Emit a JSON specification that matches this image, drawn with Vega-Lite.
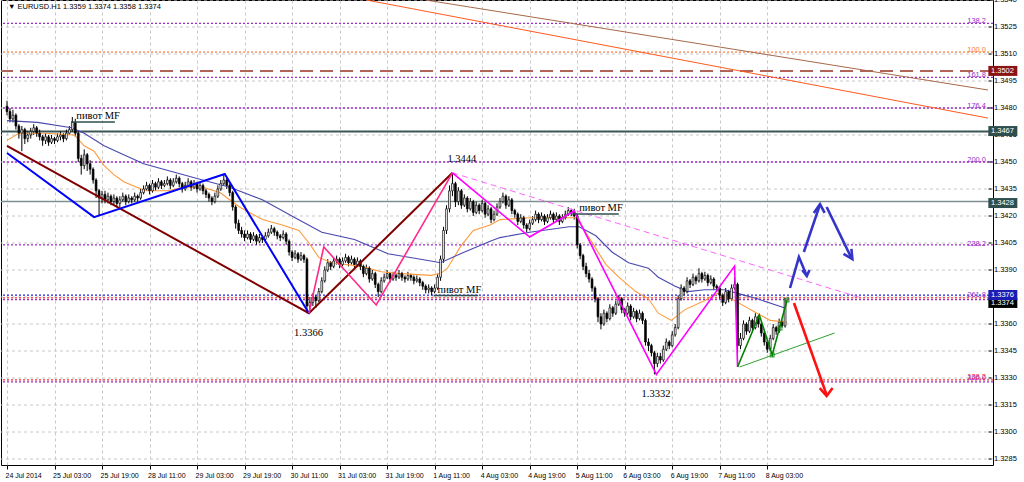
{
"$schema":"https://vega.github.io/schema/vega-lite/v6.json",
"width":992,"height":465,
"autosize":{"type":"none"},
"padding":{"left":1,"top":0,"right":31,"bottom":17},
"background":"#ffffff",
"config":{"view":{"stroke":"#000000","strokeWidth":1},
 "axis":{"title":null,"domain":false,"tickColor":"#000000","labelFont":"Liberation Sans","labelFontSize":7.5,"labelColor":"#000000","gridColor":"#c8c8c8","gridDash":[3,3],"labelOverlap":false,"labelBound":false,"labelFlush":false},
 "axisX":{"grid":true,"tickSize":4,"labelAlign":"left","labelPadding":2},
 "axisY":{"grid":false,"labels":false,"ticks":false}},
"datasets":{
"yticks":[{"p":1.3285},{"p":1.3300},{"p":1.3315},{"p":1.3330},{"p":1.3345},{"p":1.3360},{"p":1.3375},{"p":1.3390},{"p":1.3405},{"p":1.3420},{"p":1.3435},{"p":1.3450},{"p":1.3465},{"p":1.3480},{"p":1.3495},{"p":1.3510},{"p":1.3525},{"p":1.3540}],
"candles":[
{"i":0,"o":1.3481,"h":1.3484,"l":1.3476,"c":1.3478},
{"i":1,"o":1.3478,"h":1.3480,"l":1.3472,"c":1.3474},
{"i":2,"o":1.3474,"h":1.3479,"l":1.3472,"c":1.3476},
{"i":3,"o":1.3476,"h":1.3477,"l":1.3468,"c":1.3470},
{"i":4,"o":1.3470,"h":1.3471,"l":1.3463,"c":1.3466},
{"i":5,"o":1.3466,"h":1.3470,"l":1.3456,"c":1.3468},
{"i":6,"o":1.3468,"h":1.3469,"l":1.3460,"c":1.3463},
{"i":7,"o":1.3463,"h":1.3467,"l":1.3461,"c":1.3465},
{"i":8,"o":1.3465,"h":1.3469,"l":1.3463,"c":1.3467},
{"i":9,"o":1.3467,"h":1.3471,"l":1.3465,"c":1.3469},
{"i":10,"o":1.3469,"h":1.3470,"l":1.3464,"c":1.3466},
{"i":11,"o":1.3466,"h":1.3468,"l":1.3462,"c":1.3464},
{"i":12,"o":1.3464,"h":1.3465,"l":1.3459,"c":1.3462},
{"i":13,"o":1.3462,"h":1.3466,"l":1.3460,"c":1.3464},
{"i":14,"o":1.3464,"h":1.3465,"l":1.3459,"c":1.3461},
{"i":15,"o":1.3461,"h":1.3465,"l":1.3460,"c":1.3463},
{"i":16,"o":1.3463,"h":1.3464,"l":1.3460,"c":1.3462},
{"i":17,"o":1.3462,"h":1.3466,"l":1.3461,"c":1.3464},
{"i":18,"o":1.3464,"h":1.3467,"l":1.3462,"c":1.3465},
{"i":19,"o":1.3465,"h":1.3466,"l":1.3461,"c":1.3463},
{"i":20,"o":1.3463,"h":1.3468,"l":1.3462,"c":1.3466},
{"i":21,"o":1.3466,"h":1.3470,"l":1.3465,"c":1.3468},
{"i":22,"o":1.3468,"h":1.3475,"l":1.3467,"c":1.3472},
{"i":23,"o":1.3472,"h":1.3474,"l":1.3464,"c":1.3466},
{"i":24,"o":1.3466,"h":1.3467,"l":1.3450,"c":1.3452},
{"i":25,"o":1.3452,"h":1.3454,"l":1.3443,"c":1.3448},
{"i":26,"o":1.3448,"h":1.3457,"l":1.3446,"c":1.3454},
{"i":27,"o":1.3454,"h":1.3455,"l":1.3445,"c":1.3449},
{"i":28,"o":1.3449,"h":1.3451,"l":1.3443,"c":1.3446},
{"i":29,"o":1.3446,"h":1.3447,"l":1.3438,"c":1.3440},
{"i":30,"o":1.3440,"h":1.3441,"l":1.3430,"c":1.3434},
{"i":31,"o":1.3434,"h":1.3435,"l":1.3420,"c":1.3430},
{"i":32,"o":1.3430,"h":1.3434,"l":1.3427,"c":1.3432},
{"i":33,"o":1.3432,"h":1.3434,"l":1.3427,"c":1.3429},
{"i":34,"o":1.3429,"h":1.3433,"l":1.3427,"c":1.3431},
{"i":35,"o":1.3431,"h":1.3432,"l":1.3426,"c":1.3428},
{"i":36,"o":1.3428,"h":1.3432,"l":1.3426,"c":1.3430},
{"i":37,"o":1.3430,"h":1.3431,"l":1.3425,"c":1.3427},
{"i":38,"o":1.3427,"h":1.3431,"l":1.3425,"c":1.3429},
{"i":39,"o":1.3429,"h":1.3433,"l":1.3428,"c":1.3431},
{"i":40,"o":1.3431,"h":1.3432,"l":1.3426,"c":1.3428},
{"i":41,"o":1.3428,"h":1.3432,"l":1.3427,"c":1.3430},
{"i":42,"o":1.3430,"h":1.3431,"l":1.3427,"c":1.3429},
{"i":43,"o":1.3429,"h":1.3433,"l":1.3428,"c":1.3431},
{"i":44,"o":1.3431,"h":1.3432,"l":1.3428,"c":1.3430},
{"i":45,"o":1.3430,"h":1.3435,"l":1.3429,"c":1.3433},
{"i":46,"o":1.3433,"h":1.3437,"l":1.3432,"c":1.3435},
{"i":47,"o":1.3435,"h":1.3439,"l":1.3434,"c":1.3437},
{"i":48,"o":1.3437,"h":1.3438,"l":1.3432,"c":1.3434},
{"i":49,"o":1.3434,"h":1.3440,"l":1.3433,"c":1.3438},
{"i":50,"o":1.3438,"h":1.3439,"l":1.3434,"c":1.3436},
{"i":51,"o":1.3436,"h":1.3441,"l":1.3435,"c":1.3439},
{"i":52,"o":1.3439,"h":1.3440,"l":1.3435,"c":1.3437},
{"i":53,"o":1.3437,"h":1.3440,"l":1.3436,"c":1.3438},
{"i":54,"o":1.3438,"h":1.3442,"l":1.3437,"c":1.3440},
{"i":55,"o":1.3440,"h":1.3441,"l":1.3435,"c":1.3437},
{"i":56,"o":1.3437,"h":1.3441,"l":1.3436,"c":1.3439},
{"i":57,"o":1.3439,"h":1.3443,"l":1.3438,"c":1.3441},
{"i":58,"o":1.3441,"h":1.3442,"l":1.3436,"c":1.3438},
{"i":59,"o":1.3438,"h":1.3439,"l":1.3433,"c":1.3435},
{"i":60,"o":1.3435,"h":1.3439,"l":1.3434,"c":1.3437},
{"i":61,"o":1.3437,"h":1.3441,"l":1.3436,"c":1.3439},
{"i":62,"o":1.3439,"h":1.3440,"l":1.3434,"c":1.3436},
{"i":63,"o":1.3436,"h":1.3440,"l":1.3435,"c":1.3438},
{"i":64,"o":1.3438,"h":1.3439,"l":1.3433,"c":1.3435},
{"i":65,"o":1.3435,"h":1.3439,"l":1.3434,"c":1.3437},
{"i":66,"o":1.3437,"h":1.3438,"l":1.3432,"c":1.3434},
{"i":67,"o":1.3434,"h":1.3435,"l":1.3430,"c":1.3432},
{"i":68,"o":1.3432,"h":1.3433,"l":1.3428,"c":1.3430},
{"i":69,"o":1.3430,"h":1.3431,"l":1.3426,"c":1.3428},
{"i":70,"o":1.3428,"h":1.3433,"l":1.3427,"c":1.3431},
{"i":71,"o":1.3431,"h":1.3437,"l":1.3430,"c":1.3435},
{"i":72,"o":1.3435,"h":1.3440,"l":1.3434,"c":1.3438},
{"i":73,"o":1.3438,"h":1.3443,"l":1.3437,"c":1.3440},
{"i":74,"o":1.3440,"h":1.3441,"l":1.3435,"c":1.3437},
{"i":75,"o":1.3437,"h":1.3438,"l":1.3431,"c":1.3433},
{"i":76,"o":1.3433,"h":1.3434,"l":1.3423,"c":1.3425},
{"i":77,"o":1.3425,"h":1.3426,"l":1.3413,"c":1.3416},
{"i":78,"o":1.3416,"h":1.3418,"l":1.3410,"c":1.3412},
{"i":79,"o":1.3412,"h":1.3414,"l":1.3408,"c":1.3410},
{"i":80,"o":1.3410,"h":1.3412,"l":1.3406,"c":1.3408},
{"i":81,"o":1.3408,"h":1.3412,"l":1.3407,"c":1.3410},
{"i":82,"o":1.3410,"h":1.3411,"l":1.3405,"c":1.3407},
{"i":83,"o":1.3407,"h":1.3411,"l":1.3406,"c":1.3409},
{"i":84,"o":1.3409,"h":1.3410,"l":1.3404,"c":1.3406},
{"i":85,"o":1.3406,"h":1.3410,"l":1.3405,"c":1.3408},
{"i":86,"o":1.3408,"h":1.3409,"l":1.3405,"c":1.3407},
{"i":87,"o":1.3407,"h":1.3411,"l":1.3406,"c":1.3409},
{"i":88,"o":1.3409,"h":1.3413,"l":1.3408,"c":1.3411},
{"i":89,"o":1.3411,"h":1.3415,"l":1.3410,"c":1.3413},
{"i":90,"o":1.3413,"h":1.3414,"l":1.3409,"c":1.3411},
{"i":91,"o":1.3411,"h":1.3412,"l":1.3407,"c":1.3409},
{"i":92,"o":1.3409,"h":1.3410,"l":1.3406,"c":1.3408},
{"i":93,"o":1.3408,"h":1.3412,"l":1.3407,"c":1.3410},
{"i":94,"o":1.3410,"h":1.3411,"l":1.3404,"c":1.3406},
{"i":95,"o":1.3406,"h":1.3407,"l":1.3398,"c":1.3400},
{"i":96,"o":1.3400,"h":1.3401,"l":1.3395,"c":1.3397},
{"i":97,"o":1.3397,"h":1.3401,"l":1.3396,"c":1.3399},
{"i":98,"o":1.3399,"h":1.3400,"l":1.3394,"c":1.3396},
{"i":99,"o":1.3396,"h":1.3400,"l":1.3395,"c":1.3398},
{"i":100,"o":1.3398,"h":1.3399,"l":1.3394,"c":1.3396},
{"i":101,"o":1.3396,"h":1.3397,"l":1.3366,"c":1.3370},
{"i":102,"o":1.3370,"h":1.3375,"l":1.3368,"c":1.3372},
{"i":103,"o":1.3372,"h":1.3377,"l":1.3370,"c":1.3375},
{"i":104,"o":1.3375,"h":1.3376,"l":1.3369,"c":1.3373},
{"i":105,"o":1.3373,"h":1.3380,"l":1.3372,"c":1.3378},
{"i":106,"o":1.3378,"h":1.3386,"l":1.3377,"c":1.3384},
{"i":107,"o":1.3384,"h":1.3392,"l":1.3383,"c":1.3390},
{"i":108,"o":1.3390,"h":1.3396,"l":1.3389,"c":1.3394},
{"i":109,"o":1.3394,"h":1.3395,"l":1.3390,"c":1.3392},
{"i":110,"o":1.3392,"h":1.3397,"l":1.3391,"c":1.3395},
{"i":111,"o":1.3395,"h":1.3398,"l":1.3393,"c":1.3396},
{"i":112,"o":1.3396,"h":1.3397,"l":1.3391,"c":1.3393},
{"i":113,"o":1.3393,"h":1.3397,"l":1.3392,"c":1.3395},
{"i":114,"o":1.3395,"h":1.3399,"l":1.3394,"c":1.3397},
{"i":115,"o":1.3397,"h":1.3398,"l":1.3392,"c":1.3394},
{"i":116,"o":1.3394,"h":1.3398,"l":1.3393,"c":1.3396},
{"i":117,"o":1.3396,"h":1.3397,"l":1.3391,"c":1.3393},
{"i":118,"o":1.3393,"h":1.3397,"l":1.3392,"c":1.3395},
{"i":119,"o":1.3395,"h":1.3396,"l":1.3390,"c":1.3392},
{"i":120,"o":1.3392,"h":1.3393,"l":1.3386,"c":1.3388},
{"i":121,"o":1.3388,"h":1.3393,"l":1.3387,"c":1.3391},
{"i":122,"o":1.3391,"h":1.3392,"l":1.3383,"c":1.3385},
{"i":123,"o":1.3385,"h":1.3390,"l":1.3384,"c":1.3388},
{"i":124,"o":1.3388,"h":1.3389,"l":1.3380,"c":1.3382},
{"i":125,"o":1.3382,"h":1.3383,"l":1.3375,"c":1.3378},
{"i":126,"o":1.3378,"h":1.3386,"l":1.3377,"c":1.3384},
{"i":127,"o":1.3384,"h":1.3388,"l":1.3383,"c":1.3386},
{"i":128,"o":1.3386,"h":1.3390,"l":1.3385,"c":1.3388},
{"i":129,"o":1.3388,"h":1.3389,"l":1.3383,"c":1.3385},
{"i":130,"o":1.3385,"h":1.3389,"l":1.3384,"c":1.3387},
{"i":131,"o":1.3387,"h":1.3388,"l":1.3384,"c":1.3386},
{"i":132,"o":1.3386,"h":1.3390,"l":1.3385,"c":1.3388},
{"i":133,"o":1.3388,"h":1.3389,"l":1.3384,"c":1.3386},
{"i":134,"o":1.3386,"h":1.3387,"l":1.3383,"c":1.3385},
{"i":135,"o":1.3385,"h":1.3389,"l":1.3384,"c":1.3387},
{"i":136,"o":1.3387,"h":1.3388,"l":1.3384,"c":1.3386},
{"i":137,"o":1.3386,"h":1.3387,"l":1.3382,"c":1.3384},
{"i":138,"o":1.3384,"h":1.3387,"l":1.3383,"c":1.3385},
{"i":139,"o":1.3385,"h":1.3386,"l":1.3381,"c":1.3383},
{"i":140,"o":1.3383,"h":1.3384,"l":1.3379,"c":1.3381},
{"i":141,"o":1.3381,"h":1.3382,"l":1.3377,"c":1.3379},
{"i":142,"o":1.3379,"h":1.3382,"l":1.3377,"c":1.3380},
{"i":143,"o":1.3380,"h":1.3381,"l":1.3376,"c":1.3378},
{"i":144,"o":1.3378,"h":1.3382,"l":1.3377,"c":1.3380},
{"i":145,"o":1.3380,"h":1.3388,"l":1.3379,"c":1.3386},
{"i":146,"o":1.3386,"h":1.3398,"l":1.3384,"c":1.3396},
{"i":147,"o":1.3396,"h":1.3414,"l":1.3394,"c":1.3412},
{"i":148,"o":1.3412,"h":1.3426,"l":1.3410,"c":1.3424},
{"i":149,"o":1.3424,"h":1.3437,"l":1.3422,"c":1.3434},
{"i":150,"o":1.3434,"h":1.3444,"l":1.3431,"c":1.3438},
{"i":151,"o":1.3438,"h":1.3439,"l":1.3425,"c":1.3428},
{"i":152,"o":1.3428,"h":1.3436,"l":1.3426,"c":1.3434},
{"i":153,"o":1.3434,"h":1.3435,"l":1.3424,"c":1.3426},
{"i":154,"o":1.3426,"h":1.3432,"l":1.3425,"c":1.3430},
{"i":155,"o":1.3430,"h":1.3431,"l":1.3422,"c":1.3424},
{"i":156,"o":1.3424,"h":1.3430,"l":1.3423,"c":1.3428},
{"i":157,"o":1.3428,"h":1.3429,"l":1.3420,"c":1.3422},
{"i":158,"o":1.3422,"h":1.3428,"l":1.3421,"c":1.3426},
{"i":159,"o":1.3426,"h":1.3427,"l":1.3421,"c":1.3423},
{"i":160,"o":1.3423,"h":1.3429,"l":1.3422,"c":1.3427},
{"i":161,"o":1.3427,"h":1.3428,"l":1.3419,"c":1.3421},
{"i":162,"o":1.3421,"h":1.3426,"l":1.3420,"c":1.3424},
{"i":163,"o":1.3424,"h":1.3425,"l":1.3416,"c":1.3418},
{"i":164,"o":1.3418,"h":1.3423,"l":1.3417,"c":1.3421},
{"i":165,"o":1.3421,"h":1.3427,"l":1.3420,"c":1.3425},
{"i":166,"o":1.3425,"h":1.3430,"l":1.3424,"c":1.3428},
{"i":167,"o":1.3428,"h":1.3433,"l":1.3427,"c":1.3431},
{"i":168,"o":1.3431,"h":1.3432,"l":1.3424,"c":1.3426},
{"i":169,"o":1.3426,"h":1.3431,"l":1.3425,"c":1.3429},
{"i":170,"o":1.3429,"h":1.3430,"l":1.3421,"c":1.3423},
{"i":171,"o":1.3423,"h":1.3424,"l":1.3419,"c":1.3421},
{"i":172,"o":1.3421,"h":1.3422,"l":1.3415,"c":1.3417},
{"i":173,"o":1.3417,"h":1.3421,"l":1.3416,"c":1.3419},
{"i":174,"o":1.3419,"h":1.3420,"l":1.3413,"c":1.3415},
{"i":175,"o":1.3415,"h":1.3416,"l":1.3411,"c":1.3413},
{"i":176,"o":1.3413,"h":1.3418,"l":1.3412,"c":1.3416},
{"i":177,"o":1.3416,"h":1.3420,"l":1.3415,"c":1.3418},
{"i":178,"o":1.3418,"h":1.3423,"l":1.3417,"c":1.3421},
{"i":179,"o":1.3421,"h":1.3422,"l":1.3416,"c":1.3418},
{"i":180,"o":1.3418,"h":1.3422,"l":1.3417,"c":1.3420},
{"i":181,"o":1.3420,"h":1.3421,"l":1.3415,"c":1.3417},
{"i":182,"o":1.3417,"h":1.3421,"l":1.3416,"c":1.3419},
{"i":183,"o":1.3419,"h":1.3423,"l":1.3418,"c":1.3421},
{"i":184,"o":1.3421,"h":1.3422,"l":1.3416,"c":1.3418},
{"i":185,"o":1.3418,"h":1.3422,"l":1.3417,"c":1.3420},
{"i":186,"o":1.3420,"h":1.3421,"l":1.3415,"c":1.3417},
{"i":187,"o":1.3417,"h":1.3421,"l":1.3416,"c":1.3419},
{"i":188,"o":1.3419,"h":1.3423,"l":1.3418,"c":1.3421},
{"i":189,"o":1.3421,"h":1.3425,"l":1.3420,"c":1.3423},
{"i":190,"o":1.3423,"h":1.3424,"l":1.3420,"c":1.3422},
{"i":191,"o":1.3422,"h":1.3424,"l":1.3418,"c":1.3420},
{"i":192,"o":1.3420,"h":1.3421,"l":1.3402,"c":1.3404},
{"i":193,"o":1.3404,"h":1.3405,"l":1.3396,"c":1.3398},
{"i":194,"o":1.3398,"h":1.3399,"l":1.3390,"c":1.3392},
{"i":195,"o":1.3392,"h":1.3394,"l":1.3386,"c":1.3388},
{"i":196,"o":1.3388,"h":1.3390,"l":1.3383,"c":1.3385},
{"i":197,"o":1.3385,"h":1.3386,"l":1.3378,"c":1.3380},
{"i":198,"o":1.3380,"h":1.3381,"l":1.3372,"c":1.3374},
{"i":199,"o":1.3374,"h":1.3375,"l":1.3361,"c":1.3364},
{"i":200,"o":1.3364,"h":1.3366,"l":1.3357,"c":1.3360},
{"i":201,"o":1.3360,"h":1.3368,"l":1.3359,"c":1.3366},
{"i":202,"o":1.3366,"h":1.3367,"l":1.3361,"c":1.3363},
{"i":203,"o":1.3363,"h":1.3371,"l":1.3362,"c":1.3369},
{"i":204,"o":1.3369,"h":1.3370,"l":1.3364,"c":1.3366},
{"i":205,"o":1.3366,"h":1.3373,"l":1.3365,"c":1.3371},
{"i":206,"o":1.3371,"h":1.3376,"l":1.3370,"c":1.3374},
{"i":207,"o":1.3374,"h":1.3375,"l":1.3366,"c":1.3368},
{"i":208,"o":1.3368,"h":1.3369,"l":1.3364,"c":1.3366},
{"i":209,"o":1.3366,"h":1.3372,"l":1.3365,"c":1.3370},
{"i":210,"o":1.3370,"h":1.3371,"l":1.3362,"c":1.3364},
{"i":211,"o":1.3364,"h":1.3369,"l":1.3363,"c":1.3367},
{"i":212,"o":1.3367,"h":1.3368,"l":1.3361,"c":1.3363},
{"i":213,"o":1.3363,"h":1.3368,"l":1.3362,"c":1.3366},
{"i":214,"o":1.3366,"h":1.3367,"l":1.3360,"c":1.3362},
{"i":215,"o":1.3362,"h":1.3363,"l":1.3348,"c":1.3350},
{"i":216,"o":1.3350,"h":1.3352,"l":1.3345,"c":1.3348},
{"i":217,"o":1.3348,"h":1.3349,"l":1.3342,"c":1.3344},
{"i":218,"o":1.3344,"h":1.3345,"l":1.3332,"c":1.3338},
{"i":219,"o":1.3338,"h":1.3344,"l":1.3336,"c":1.3342},
{"i":220,"o":1.3342,"h":1.3344,"l":1.3338,"c":1.3340},
{"i":221,"o":1.3340,"h":1.3348,"l":1.3339,"c":1.3346},
{"i":222,"o":1.3346,"h":1.3352,"l":1.3345,"c":1.3350},
{"i":223,"o":1.3350,"h":1.3351,"l":1.3346,"c":1.3348},
{"i":224,"o":1.3348,"h":1.3356,"l":1.3347,"c":1.3354},
{"i":225,"o":1.3354,"h":1.3360,"l":1.3353,"c":1.3358},
{"i":226,"o":1.3358,"h":1.3376,"l":1.3357,"c":1.3374},
{"i":227,"o":1.3374,"h":1.3382,"l":1.3373,"c":1.3380},
{"i":228,"o":1.3380,"h":1.3381,"l":1.3376,"c":1.3378},
{"i":229,"o":1.3378,"h":1.3386,"l":1.3377,"c":1.3384},
{"i":230,"o":1.3384,"h":1.3385,"l":1.3380,"c":1.3382},
{"i":231,"o":1.3382,"h":1.3388,"l":1.3381,"c":1.3386},
{"i":232,"o":1.3386,"h":1.3387,"l":1.3382,"c":1.3384},
{"i":233,"o":1.3384,"h":1.3391,"l":1.3383,"c":1.3388},
{"i":234,"o":1.3388,"h":1.3389,"l":1.3383,"c":1.3385},
{"i":235,"o":1.3385,"h":1.3389,"l":1.3384,"c":1.3387},
{"i":236,"o":1.3387,"h":1.3388,"l":1.3381,"c":1.3383},
{"i":237,"o":1.3383,"h":1.3387,"l":1.3382,"c":1.3385},
{"i":238,"o":1.3385,"h":1.3386,"l":1.3379,"c":1.3381},
{"i":239,"o":1.3381,"h":1.3382,"l":1.3378,"c":1.3380},
{"i":240,"o":1.3380,"h":1.3381,"l":1.3374,"c":1.3376},
{"i":241,"o":1.3376,"h":1.3377,"l":1.3370,"c":1.3372},
{"i":242,"o":1.3372,"h":1.3380,"l":1.3371,"c":1.3378},
{"i":243,"o":1.3378,"h":1.3379,"l":1.3372,"c":1.3374},
{"i":244,"o":1.3374,"h":1.3382,"l":1.3373,"c":1.3380},
{"i":245,"o":1.3380,"h":1.3386,"l":1.3379,"c":1.3382},
{"i":246,"o":1.3382,"h":1.3383,"l":1.3338,"c":1.3348},
{"i":247,"o":1.3348,"h":1.3355,"l":1.3346,"c":1.3352},
{"i":248,"o":1.3352,"h":1.3362,"l":1.3351,"c":1.3360},
{"i":249,"o":1.3360,"h":1.3361,"l":1.3354,"c":1.3356},
{"i":250,"o":1.3356,"h":1.3364,"l":1.3355,"c":1.3362},
{"i":251,"o":1.3362,"h":1.3363,"l":1.3356,"c":1.3358},
{"i":252,"o":1.3358,"h":1.3366,"l":1.3357,"c":1.3364},
{"i":253,"o":1.3364,"h":1.3365,"l":1.3358,"c":1.3360},
{"i":254,"o":1.3360,"h":1.3361,"l":1.3353,"c":1.3355},
{"i":255,"o":1.3355,"h":1.3356,"l":1.3348,"c":1.3350},
{"i":256,"o":1.3350,"h":1.3351,"l":1.3344,"c":1.3346},
{"i":257,"o":1.3346,"h":1.3354,"l":1.3345,"c":1.3352},
{"i":258,"o":1.3352,"h":1.3360,"l":1.3351,"c":1.3358},
{"i":259,"o":1.3358,"h":1.3359,"l":1.3354,"c":1.3356},
{"i":260,"o":1.3356,"h":1.3363,"l":1.3355,"c":1.3361},
{"i":261,"o":1.3361,"h":1.3362,"l":1.3358,"c":1.3359},
{"i":262,"o":1.3359,"h":1.3374,"l":1.3358,"c":1.3374}
],
"ma":[
{"s":"fast","x":0,"p":1.3462},{"s":"fast","x":4,"p":1.3466},{"s":"fast","x":12.7,"p":1.3466},{"s":"fast","x":22.7,"p":1.3465},{"s":"fast","x":26,"p":1.3459},{"s":"fast","x":29.3,"p":1.3456},{"s":"fast","x":32.7,"p":1.3448},{"s":"fast","x":36,"p":1.3443},{"s":"fast","x":39.3,"p":1.3439},{"s":"fast","x":43.7,"p":1.3436},{"s":"fast","x":47,"p":1.3434},{"s":"fast","x":54.3,"p":1.3434},{"s":"fast","x":59.3,"p":1.3436},{"s":"fast","x":66,"p":1.3436},{"s":"fast","x":71.7,"p":1.3433},{"s":"fast","x":78.3,"p":1.3425},{"s":"fast","x":86,"p":1.3418},{"s":"fast","x":92.7,"p":1.3415},{"s":"fast","x":98.3,"p":1.3412},{"s":"fast","x":101.7,"p":1.3405},{"s":"fast","x":105,"p":1.3397},{"s":"fast","x":109.3,"p":1.3394},{"s":"fast","x":119.3,"p":1.3392},{"s":"fast","x":126,"p":1.3389},{"s":"fast","x":132.7,"p":1.3388},{"s":"fast","x":142.7,"p":1.3387},{"s":"fast","x":146,"p":1.3388},{"s":"fast","x":148.3,"p":1.3391},{"s":"fast","x":152.7,"p":1.3403},{"s":"fast","x":157,"p":1.3412},{"s":"fast","x":162.7,"p":1.3415},{"s":"fast","x":166,"p":1.3418},{"s":"fast","x":176,"p":1.3419},{"s":"fast","x":189.3,"p":1.3419},{"s":"fast","x":191.7,"p":1.3419},{"s":"fast","x":196,"p":1.3408},{"s":"fast","x":201.7,"p":1.3393},{"s":"fast","x":206,"p":1.3386},{"s":"fast","x":211.7,"p":1.3378},{"s":"fast","x":216,"p":1.3374},{"s":"fast","x":219.3,"p":1.3366},{"s":"fast","x":223.7,"p":1.3362},{"s":"fast","x":228.3,"p":1.3368},{"s":"fast","x":235,"p":1.3373},{"s":"fast","x":239.3,"p":1.3377},{"s":"fast","x":245,"p":1.3373},{"s":"fast","x":250.3,"p":1.3368},{"s":"fast","x":257,"p":1.3362},{"s":"fast","x":262.7,"p":1.3361},
{"s":"slow","x":0,"p":1.3473},{"s":"slow","x":10.3,"p":1.3472},{"s":"slow","x":21.7,"p":1.3469},{"s":"slow","x":26,"p":1.3466},{"s":"slow","x":32.7,"p":1.3459},{"s":"slow","x":39.3,"p":1.3454},{"s":"slow","x":46,"p":1.3449},{"s":"slow","x":52.7,"p":1.3446},{"s":"slow","x":63.7,"p":1.3441},{"s":"slow","x":75,"p":1.3436},{"s":"slow","x":86,"p":1.3429},{"s":"slow","x":97,"p":1.3419},{"s":"slow","x":106,"p":1.3411},{"s":"slow","x":117,"p":1.3407},{"s":"slow","x":128.3,"p":1.3399},{"s":"slow","x":139.3,"p":1.3396},{"s":"slow","x":146,"p":1.3394},{"s":"slow","x":152.7,"p":1.3399},{"s":"slow","x":162.7,"p":1.3406},{"s":"slow","x":166,"p":1.3408},{"s":"slow","x":176,"p":1.3411},{"s":"slow","x":189.3,"p":1.3414},{"s":"slow","x":192.7,"p":1.3414},{"s":"slow","x":198.3,"p":1.3409},{"s":"slow","x":203.7,"p":1.3400},{"s":"slow","x":209.3,"p":1.3394},{"s":"slow","x":216,"p":1.3391},{"s":"slow","x":219.3,"p":1.3386},{"s":"slow","x":225,"p":1.3381},{"s":"slow","x":229.3,"p":1.3378},{"s":"slow","x":235,"p":1.3379},{"s":"slow","x":241.7,"p":1.3379},{"s":"slow","x":246,"p":1.3377},{"s":"slow","x":252.7,"p":1.3374},{"s":"slow","x":261.7,"p":1.3369}
],
"levels":[
{"p":1.3527,"k":"fib"},{"p":1.3511,"k":"fibo"},{"p":1.3497,"k":"fib"},{"p":1.3480,"k":"fib"},{"p":1.3450,"k":"fib"},{"p":1.3404,"k":"fib"},{"p":1.3376,"k":"bluedot"},{"p":1.33745,"k":"reddot"},{"p":1.33735,"k":"fib"},{"p":1.3329,"k":"reddot"},{"p":1.33278,"k":"fib"},
{"p":1.35006,"k":"res"},{"p":1.3467,"k":"slate"},{"p":1.3428,"k":"gray"}
],
"lines":[
{"s":"tl1","n":0,"x":141,"p":1.3540},{"s":"tl1","n":1,"x":330.33,"p":1.3490},
{"s":"tl2","n":0,"x":121,"p":1.3540},{"s":"tl2","n":1,"x":330.33,"p":1.34744},
{"s":"greentl","n":0,"x":246.67,"p":1.33361},{"s":"greentl","n":1,"x":278.67,"p":1.3355},
{"s":"maroon","n":0,"x":0,"p":1.34589},{"s":"maroon","n":1,"x":101.67,"p":1.3366},{"s":"maroon","n":2,"x":150,"p":1.3444},
{"s":"blue","n":0,"x":0,"p":1.3455},{"s":"blue","n":1,"x":29.33,"p":1.34194},{"s":"blue","n":2,"x":73.33,"p":1.34433},{"s":"blue","n":3,"x":101.67,"p":1.3366},
{"s":"pink","n":0,"x":101.67,"p":1.3366},{"s":"pink","n":1,"x":106.67,"p":1.34028},{"s":"pink","n":2,"x":124.33,"p":1.33706},{"s":"pink","n":3,"x":150,"p":1.3444},
{"s":"magenta","n":0,"x":150,"p":1.3444},{"s":"magenta","n":1,"x":176,"p":1.34083},{"s":"magenta","n":2,"x":191,"p":1.34228},{"s":"magenta","n":3,"x":218.67,"p":1.3332},{"s":"magenta","n":4,"x":245,"p":1.33922},{"s":"magenta","n":5,"x":246,"p":1.33361},
{"s":"green","n":0,"x":246,"p":1.33361},{"s":"green","n":1,"x":253.33,"p":1.3365},{"s":"green","n":2,"x":257.67,"p":1.33428},{"s":"green","n":3,"x":262.67,"p":1.33733},
{"s":"piv1","n":0,"x":21.57,"p":1.34722},{"s":"piv1","n":1,"x":36.33,"p":1.34722},
{"s":"piv2","n":0,"x":190.33,"p":1.34211},{"s":"piv2","n":1,"x":206,"p":1.34211},
{"s":"piv3","n":0,"x":143.67,"p":1.33758},{"s":"piv3","n":1,"x":158.67,"p":1.33758},
{"s":"magdash","n":0,"x":150,"p":1.3444},{"s":"magdash","n":1,"x":286.67,"p":1.3375},
{"s":"bluearr1","n":0,"x":263.67,"p":1.3380},{"s":"bluearr1","n":1,"x":266.67,"p":1.33972},{"s":"bluearr1","n":2,"x":269.33,"p":1.33867},
{"s":"bluehead1","n":0,"x":267.77,"p":1.3390},{"s":"bluehead1","n":1,"x":269.33,"p":1.33867},{"s":"bluehead1","n":2,"x":270.23,"p":1.3390},
{"s":"bluearr2","n":0,"x":268.33,"p":1.3400},{"s":"bluearr2","n":1,"x":273.77,"p":1.34265},
{"s":"bluehead2","n":0,"x":271.67,"p":1.34217},{"s":"bluehead2","n":1,"x":273.77,"p":1.34265},{"s":"bluehead2","n":2,"x":275.33,"p":1.34217},
{"s":"bluearr3","n":0,"x":276,"p":1.3425},{"s":"bluearr3","n":1,"x":284.33,"p":1.33967},
{"s":"bluehead3","n":0,"x":281.67,"p":1.33989},{"s":"bluehead3","n":1,"x":284.67,"p":1.33961},{"s":"bluehead3","n":2,"x":284.33,"p":1.34017},
{"s":"redarr","n":0,"x":265,"p":1.33717},{"s":"redarr","n":1,"x":276,"p":1.33206},
{"s":"redhead","n":0,"x":273.67,"p":1.33244},{"s":"redhead","n":1,"x":276,"p":1.3320},{"s":"redhead","n":2,"x":278,"p":1.33244}
],
"marks":[{"x":257.67,"p":1.33428},{"x":260.33,"p":1.33578},{"x":262.67,"p":1.33733}],
"serif":[
{"t":"пивот MF","x":23.33,"p":1.34739},
{"t":"пивот MF","x":192.67,"p":1.34228},
{"t":"пивот MF","x":145,"p":1.33772},
{"t":"1.3444","x":148.33,"p":1.3450},
{"t":"1.3366","x":96.67,"p":1.33533},
{"t":"1.3332","x":213.67,"p":1.33194}
],
"fibtext":[
{"t":"138.2","k":"fib","p":1.35275},
{"t":"100.0","k":"fibo","p":1.35111},
{"t":"161.8","k":"fib","p":1.34972},
{"t":"176.4","k":"fib","p":1.3480},
{"t":"200.0","k":"fib","p":1.3450},
{"t":"238.2","k":"fib","p":1.34033},
{"t":"261.8","k":"fib","p":1.3375},
{"t":"138.2","k":"fibred","p":1.33294},
{"t":"300.0","k":"fib","p":1.33289}
],
"boxes":[
{"t":"1.3502","k":"b1","p":1.35006},
{"t":"1.3467","k":"b2","p":1.34672},
{"t":"1.3428","k":"b2","p":1.34272},
{"t":"1.3374","k":"b3","p":1.33717},
{"t":"1.3376","k":"b4","p":1.33761}
],
"title":[{"t":"▼ EURUSD.H1  1.3359 1.3374 1.3358 1.3374","x":0.33,"p":1.35361}]
},
"layer":[
{"data":{"name":"yticks"},
 "mark":{"type":"rule","strokeWidth":1,"strokeDash":[3,3],"color":"#c8c8c8"},
 "encoding":{"y":{"field":"p","type":"quantitative","scale":{"domain":[1.328167,1.354],"nice":false,"zero":false},"axis":{"title":null}}}},
{"data":{"name":"levels"},"transform":[{"filter":"indexof(['fib','fibo','bluedot','reddot'], datum.k) >= 0"}],
 "mark":{"type":"rule","strokeWidth":1.3,"strokeDash":[2,2]},
 "encoding":{
  "y":{"field":"p","type":"quantitative","scale":{"domain":[1.328167,1.354],"nice":false,"zero":false},"axis":{"title":null}},
  "color":{"field":"k","type":"nominal","scale":{"domain":["fib","fibo","bluedot","reddot"],"range":["#9b30c8","#ff8040","#2020e0","#ff3030"]},"legend":null}
 }},
{"data":{"name":"levels"},"transform":[{"filter":"datum.k == 'res'"}],
 "mark":{"type":"rule","strokeWidth":2,"strokeDash":[13,7],"color":"#b0645a"},
 "encoding":{"y":{"field":"p","type":"quantitative","scale":{"domain":[1.328167,1.354],"nice":false,"zero":false},"axis":{"title":null}}}},
{"data":{"name":"levels"},"transform":[{"filter":"datum.k == 'slate'"}],
 "mark":{"type":"rule","strokeWidth":2,"color":"#3a5656"},
 "encoding":{"y":{"field":"p","type":"quantitative","scale":{"domain":[1.328167,1.354],"nice":false,"zero":false},"axis":{"title":null}}}},
{"data":{"name":"levels"},"transform":[{"filter":"datum.k == 'gray'"}],
 "mark":{"type":"rule","strokeWidth":1.5,"color":"#7f9090"},
 "encoding":{"y":{"field":"p","type":"quantitative","scale":{"domain":[1.328167,1.354],"nice":false,"zero":false},"axis":{"title":null}}}},
{"data":{"name":"candles"},
 "mark":{"type":"rule","color":"#000000","strokeWidth":1},
 "encoding":{
  "x":{"field":"i","type":"quantitative","scale":{"domain":[-0.3333,330.3333],"nice":false,"zero":false},
   "axis":{"values":[0,16,32,48,64,80,96,112,128,144,160,176,192,208,224,240,256],"labelExpr":"['24 Jul 2014','25 Jul 03:00','25 Jul 19:00','28 Jul 11:00','29 Jul 03:00','29 Jul 19:00','30 Jul 11:00','31 Jul 03:00','31 Jul 19:00','1 Aug 11:00','4 Aug 03:00','4 Aug 19:00','5 Aug 11:00','6 Aug 03:00','6 Aug 19:00','7 Aug 11:00','8 Aug 03:00'][round(datum.value/16)]","title":null,"labelFontSize":7,"labelOffset":-2,"labelOverlap":false,"labelBound":false}},
  "y":{"field":"l","type":"quantitative","scale":{"domain":[1.328167,1.354],"nice":false,"zero":false},"axis":{"title":null}},
  "y2":{"field":"h"}
 }},
{"data":{"name":"ma"},
 "mark":{"type":"line","strokeWidth":1.1,"clip":true},
 "encoding":{
  "x":{"field":"x","type":"quantitative","scale":{"domain":[-0.3333,330.3333],"nice":false,"zero":false},"axis":{"title":null}},
  "y":{"field":"p","type":"quantitative","scale":{"domain":[1.328167,1.354],"nice":false,"zero":false},"axis":{"title":null}},
  "color":{"field":"s","type":"nominal","scale":{"domain":["fast","slow"],"range":["#ff9a3c","#4848b0"]},"legend":null}
 }},
{"data":{"name":"candles"},
 "mark":{"type":"bar","size":1.8,"stroke":"#000000","strokeWidth":0.7},
 "encoding":{
  "x":{"field":"i","type":"quantitative","scale":{"domain":[-0.3333,330.3333],"nice":false,"zero":false},"axis":{"title":null}},
  "y":{"field":"o","type":"quantitative","scale":{"domain":[1.328167,1.354],"nice":false,"zero":false},"axis":{"title":null}},
  "y2":{"field":"c"},
  "color":{"condition":{"test":"datum.c >= datum.o","value":"#ffffff"},"value":"#000000"}
 }},
{"data":{"name":"lines"},"transform":[{"filter":"indexof(['tl1','tl2','greentl'], datum.s) >= 0"}],
 "mark":{"type":"line","strokeWidth":1,"clip":true},
 "encoding":{
  "x":{"field":"x","type":"quantitative","scale":{"domain":[-0.3333,330.3333],"nice":false,"zero":false},"axis":{"title":null}},
  "y":{"field":"p","type":"quantitative","scale":{"domain":[1.328167,1.354],"nice":false,"zero":false},"axis":{"title":null}},
  "order":{"field":"n"},
  "color":{"field":"s","type":"nominal","scale":{"domain":["tl1","tl2","greentl"],"range":["#a8684a","#ff5a1e","#30a030"]},"legend":null}
 }},
{"data":{"name":"lines"},"transform":[{"filter":"indexof(['maroon','blue'], datum.s) >= 0"}],
 "mark":{"type":"line","strokeWidth":2,"clip":true},
 "encoding":{
  "x":{"field":"x","type":"quantitative","scale":{"domain":[-0.3333,330.3333],"nice":false,"zero":false},"axis":{"title":null}},
  "y":{"field":"p","type":"quantitative","scale":{"domain":[1.328167,1.354],"nice":false,"zero":false},"axis":{"title":null}},
  "order":{"field":"n"},
  "color":{"field":"s","type":"nominal","scale":{"domain":["maroon","blue"],"range":["#800000","#0000ff"]},"legend":null}
 }},
{"data":{"name":"lines"},"transform":[{"filter":"datum.s == 'magdash'"}],
 "mark":{"type":"line","strokeWidth":1,"strokeDash":[6,4],"color":"#ff66ff","clip":true},
 "encoding":{
  "x":{"field":"x","type":"quantitative","scale":{"domain":[-0.3333,330.3333],"nice":false,"zero":false},"axis":{"title":null}},
  "y":{"field":"p","type":"quantitative","scale":{"domain":[1.328167,1.354],"nice":false,"zero":false},"axis":{"title":null}},
  "order":{"field":"n"}
 }},
{"data":{"name":"lines"},"transform":[{"filter":"indexof(['pink','magenta','green','piv1','piv2','piv3'], datum.s) >= 0"}],
 "mark":{"type":"line","strokeWidth":1.6,"clip":true},
 "encoding":{
  "x":{"field":"x","type":"quantitative","scale":{"domain":[-0.3333,330.3333],"nice":false,"zero":false},"axis":{"title":null}},
  "y":{"field":"p","type":"quantitative","scale":{"domain":[1.328167,1.354],"nice":false,"zero":false},"axis":{"title":null}},
  "order":{"field":"n"},
  "color":{"field":"s","type":"nominal","scale":{"domain":["pink","magenta","green","piv1","piv2","piv3"],"range":["#ff2a8a","#ff00ff","#008000","#2f4f4f","#2f4f4f","#2f4f4f"]},"legend":null}
 }},
{"data":{"name":"lines"},"transform":[{"filter":"indexof(['bluearr1','bluehead1','bluearr2','bluehead2','bluearr3','bluehead3','redarr','redhead'], datum.s) >= 0"}],
 "mark":{"type":"line","strokeWidth":2.6},
 "encoding":{
  "x":{"field":"x","type":"quantitative","scale":{"domain":[-0.3333,330.3333],"nice":false,"zero":false},"axis":{"title":null}},
  "y":{"field":"p","type":"quantitative","scale":{"domain":[1.328167,1.354],"nice":false,"zero":false},"axis":{"title":null}},
  "order":{"field":"n"},
  "color":{"field":"s","type":"nominal","scale":{"domain":["bluearr1","bluehead1","bluearr2","bluehead2","bluearr3","bluehead3","redarr","redhead"],"range":["#3434c8","#3434c8","#3434c8","#3434c8","#3434c8","#3434c8","#ff1010","#ff1010"]},"legend":null}
 }},
{"data":{"name":"marks"},
 "mark":{"type":"point","shape":"square","size":14,"filled":false,"color":"#008000","strokeWidth":1.2},
 "encoding":{
  "x":{"field":"x","type":"quantitative","scale":{"domain":[-0.3333,330.3333],"nice":false,"zero":false},"axis":{"title":null}},
  "y":{"field":"p","type":"quantitative","scale":{"domain":[1.328167,1.354],"nice":false,"zero":false},"axis":{"title":null}}
 }},
{"data":{"name":"serif"},
 "mark":{"type":"text","font":"Liberation Serif","fontSize":10.5,"align":"left","baseline":"alphabetic","color":"#000000"},
 "encoding":{
  "x":{"field":"x","type":"quantitative","scale":{"domain":[-0.3333,330.3333],"nice":false,"zero":false},"axis":{"title":null}},
  "y":{"field":"p","type":"quantitative","scale":{"domain":[1.328167,1.354],"nice":false,"zero":false},"axis":{"title":null}},
  "text":{"field":"t"}
 }},
{"data":{"name":"fibtext"},
 "mark":{"type":"text","font":"Liberation Sans","fontSize":7.5,"align":"right","baseline":"alphabetic"},
 "encoding":{
  "x":{"datum":329.67,"type":"quantitative","scale":{"domain":[-0.3333,330.3333],"nice":false,"zero":false},"axis":{"title":null}},
  "y":{"field":"p","type":"quantitative","scale":{"domain":[1.328167,1.354],"nice":false,"zero":false},"axis":{"title":null}},
  "text":{"field":"t"},
  "color":{"field":"k","type":"nominal","scale":{"domain":["fib","fibo","fibred"],"range":["#9b30c8","#ff7a30","#ff2020"]},"legend":null}
 }},
{"data":{"name":"title"},
 "mark":{"type":"text","font":"Liberation Sans","fontSize":7.5,"align":"left","baseline":"middle","color":"#000000"},
 "encoding":{
  "x":{"field":"x","type":"quantitative","scale":{"domain":[-0.3333,330.3333],"nice":false,"zero":false},"axis":{"title":null}},
  "y":{"field":"p","type":"quantitative","scale":{"domain":[1.328167,1.354],"nice":false,"zero":false},"axis":{"title":null}},
  "text":{"field":"t"}
 }},
{"data":{"name":"yticks"},
 "mark":{"type":"tick","orient":"horizontal","size":3,"thickness":1,"color":"#000000","opacity":1},
 "encoding":{
  "x":{"datum":331,"type":"quantitative","scale":{"domain":[-0.3333,330.3333],"nice":false,"zero":false},"axis":{"title":null}},
  "y":{"field":"p","type":"quantitative","scale":{"domain":[1.328167,1.354],"nice":false,"zero":false},"axis":{"title":null}}
 }},
{"data":{"name":"yticks"},
 "mark":{"type":"text","font":"Liberation Sans","fontSize":7.5,"align":"left","baseline":"middle","color":"#000000"},
 "encoding":{
  "x":{"datum":332.33,"type":"quantitative","scale":{"domain":[-0.3333,330.3333],"nice":false,"zero":false},"axis":{"title":null}},
  "y":{"field":"p","type":"quantitative","scale":{"domain":[1.328167,1.354],"nice":false,"zero":false},"axis":{"title":null}},
  "text":{"field":"p","type":"quantitative","format":".4f"}
 }},
{"data":{"name":"boxes"},"transform":[{"filter":"datum.k != 'b4'"}],
 "mark":{"type":"tick","orient":"horizontal","size":29,"thickness":10,"opacity":1},
 "encoding":{
  "x":{"datum":335.33,"type":"quantitative","scale":{"domain":[-0.3333,330.3333],"nice":false,"zero":false},"axis":{"title":null}},
  "y":{"field":"p","type":"quantitative","scale":{"domain":[1.328167,1.354],"nice":false,"zero":false},"axis":{"title":null}},
  "color":{"field":"k","type":"nominal","scale":{"domain":["b1","b2","b3"],"range":["#8b1414","#2f4f4f","#000000"]},"legend":null}
 }},
{"data":{"name":"boxes"},"transform":[{"filter":"datum.k != 'b4'"}],
 "mark":{"type":"text","font":"Liberation Sans","fontSize":7.5,"align":"left","baseline":"middle","color":"#ffffff"},
 "encoding":{
  "x":{"datum":331.33,"type":"quantitative","scale":{"domain":[-0.3333,330.3333],"nice":false,"zero":false},"axis":{"title":null}},
  "y":{"field":"p","type":"quantitative","scale":{"domain":[1.328167,1.354],"nice":false,"zero":false},"axis":{"title":null}},
  "text":{"field":"t"}
 }},
{"data":{"name":"boxes"},"transform":[{"filter":"datum.k == 'b4'"}],
 "mark":{"type":"tick","orient":"horizontal","size":29,"thickness":10,"color":"#1c1cb4","opacity":1},
 "encoding":{
  "x":{"datum":335.33,"type":"quantitative","scale":{"domain":[-0.3333,330.3333],"nice":false,"zero":false},"axis":{"title":null}},
  "y":{"field":"p","type":"quantitative","scale":{"domain":[1.328167,1.354],"nice":false,"zero":false},"axis":{"title":null}}
 }},
{"data":{"name":"boxes"},"transform":[{"filter":"datum.k == 'b4'"}],
 "mark":{"type":"text","font":"Liberation Sans","fontSize":7.5,"align":"left","baseline":"middle","color":"#ffffff"},
 "encoding":{
  "x":{"datum":331.33,"type":"quantitative","scale":{"domain":[-0.3333,330.3333],"nice":false,"zero":false},"axis":{"title":null}},
  "y":{"field":"p","type":"quantitative","scale":{"domain":[1.328167,1.354],"nice":false,"zero":false},"axis":{"title":null}},
  "text":{"field":"t"}
 }}
],
"resolve":{"scale":{"color":"independent"}}
}
